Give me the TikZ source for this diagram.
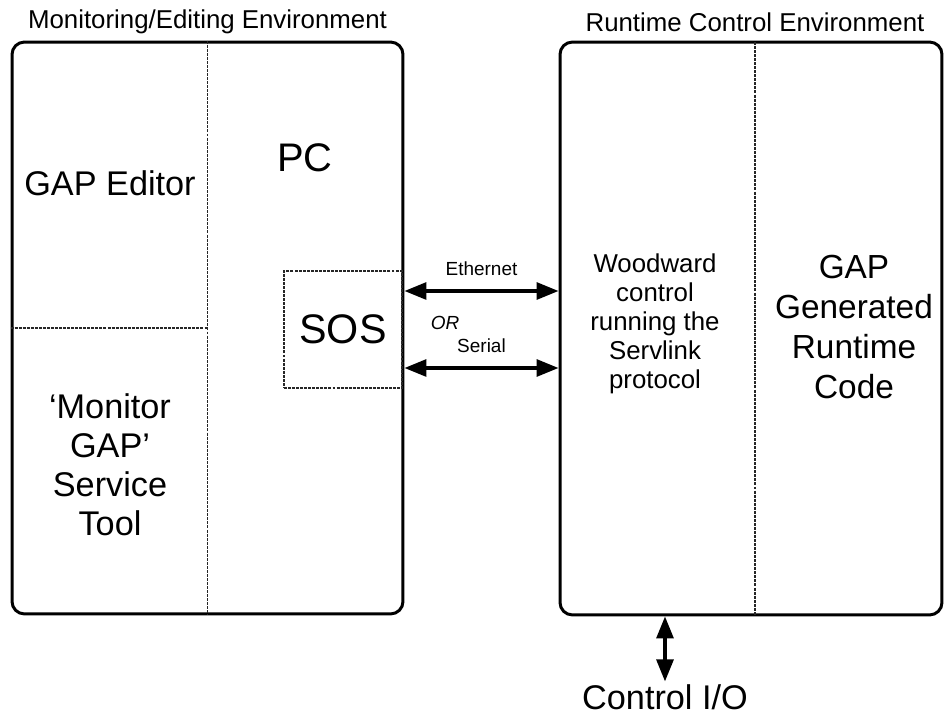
\documentclass[tikz,border=0pt]{standalone}
\usepackage{fontspec}
\setmainfont{Liberation Sans}
\usetikzlibrary{arrows.meta,positioning}

\tikzset{
  envbox/.style={draw, line width=1.7pt, rounded corners=7pt, inner sep=0pt},
  divider/.style={line width=0.6pt, black!85, dash pattern=on 1.7pt off 0.6pt},
  sosbox/.style={draw, divider, text=black, inner sep=0pt, font=\fontsize{23.5}{27}\selectfont},
  headlabel/.style={font=\fontsize{14.7}{17}\selectfont, inner sep=0pt},
  biglabel/.style={font=\fontsize{19.5}{22.2}\selectfont, align=center, inner sep=0pt},
  pclabel/.style={font=\fontsize{22.7}{26}\selectfont, inner sep=0pt},
  midlabel/.style={font=\fontsize{14.7}{16.5}\selectfont, align=center, inner sep=0pt},
  codelabel/.style={font=\fontsize{19}{22.8}\selectfont, align=center, inner sep=0pt},
  smalllabel/.style={font=\fontsize{10.8}{13}\selectfont, inner sep=0pt},
  link/.style={{Triangle[length=12.5pt,width=9.6pt]}-{Triangle[length=12.5pt,width=9.6pt]}, line width=1.9pt},
}

\begin{document}
\begin{tikzpicture}[x=0.02cm, y=-0.02cm]
  % page size in pixels of the original
  \useasboundingbox (0,0) rectangle (944,716);

  % Two environments
  \node[envbox, minimum width=7.82cm, minimum height=11.44cm] (lbox) at (207.5,328) {};
  \node[envbox, minimum width=7.64cm, minimum height=11.46cm] (rbox) at (751,328.5) {};
  \node[headlabel] (lhead) at (207.5,22) {Monitoring/Editing Environment};
  \node[headlabel] (rhead) at (755,22) {Runtime Control Environment};

  % Dotted dividers inside the boxes
  \draw[divider] (lbox.north) -- (lbox.south);
  \draw[divider] (lbox.west) -- (lbox.center);
  \draw[divider] (755,42) -- (755,615);

  % PC side
  \node[biglabel] (editor) at (110,183) {GAP Editor};
  \node[pclabel] (pc) at (305,158) {PC};
  \node[biglabel] (monitor) at (110,465) {`Monitor\\GAP'\\Service\\Tool};
  \node[sosbox, minimum width=2.36cm, minimum height=2.34cm] (sos) at (343,329.5) {SOS};

  % Control side
  \node[midlabel] (woodward) at (655,324) {Woodward\\control\\running the\\Servlink\\protocol};
  \node[codelabel] (runtime) at (854,327) {GAP\\Generated\\Runtime\\Code};

  % Links between the environments
  \draw[link] (lbox.east |- 0,291) -- node[smalllabel, above=7.5pt] (eth) {Ethernet} (rbox.west |- 0,291);
  \node[smalllabel, font=\fontsize{10.8}{13}\selectfont\itshape] (or) at (445,323) {OR};
  \draw[link] (lbox.east |- 0,368) -- node[smalllabel, above=7.5pt] (ser) {Serial} (rbox.west |- 0,368);

  % Control I/O
  \node[biglabel] (io) at (665,697) {Control I/O};
  \draw[link, shorten >=1.5pt] (io.north |- rbox.south) -- (io.north);
\end{tikzpicture}
\end{document}
